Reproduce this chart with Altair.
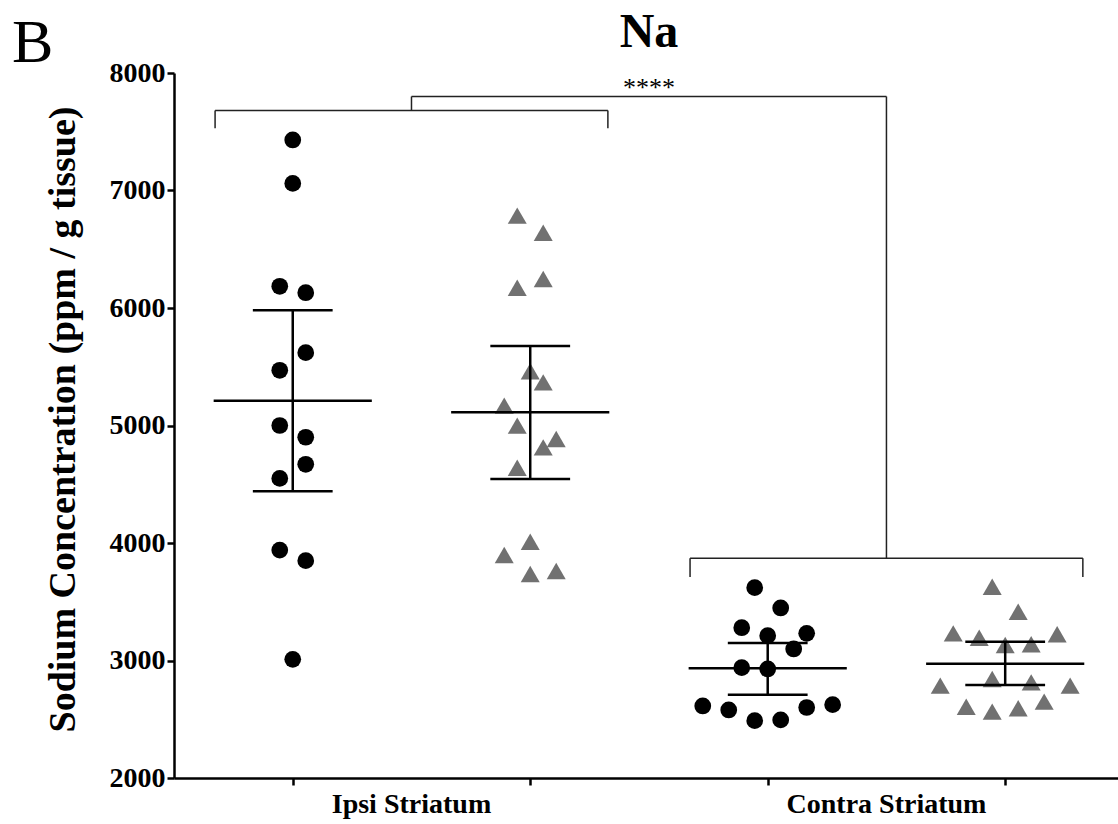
import altair as alt
import pandas as pd

# ---------------- data ----------------
groups = ["Ipsi Striatum", "Contra Striatum"]
group_centers = [1.0, 3.0]
series_pos = [0.5, 1.5, 2.5, 3.5]          # Ipsi-circle, Ipsi-triangle, Contra-circle, Contra-triangle
series_marker = ["circle", "triangle", "circle", "triangle"]

ipsi_circle = [7430, 7060, 6185, 6130, 5620, 5470, 5000, 4900, 4670, 4550, 3940, 3850, 3010]
ipsi_circle_col = [0, 0, -1, 1, 1, -1, -1, 1, 1, -1, -1, 1, 0]

ipsi_tri = [6786, 6641, 6247, 6173, 5461, 5367, 5169, 4999, 4885, 4814, 4641, 4011, 3898, 3736, 3762]
ipsi_tri_col = [-1, 1, 1, -1, 0, 1, -2, -1, 2, 1, -1, 0, -2, 0, 2]

contra_circle = [3620, 3447, 3279, 3211, 3231, 3098, 2939, 2928, 2613, 2579, 2488, 2494, 2600, 2624]
contra_circle_col = [-1, 1, -2, 0, 3, 2, -2, 0, -5, -3, -1, 1, 3, 5]

contra_tri = [3628, 3415, 3231, 3194, 3223, 3132, 3138, 2786, 2843, 2814, 2786, 2607, 2565, 2593, 2650]
contra_tri_col = [-1, 1, -4, -2, 4, 0, 2, -5, -1, 2, 5, -3, -1, 1, 3]

means = [5210, 5112, 2934, 2973]
upper = [5980, 5677, 3149, 3160]
lower = [4440, 4545, 2709, 2791]

# significance brackets (x in group units, y in ppm)
br_x = [0.173, 0.173, 1.827, 2.173, 2.173, 3.827, 1.0, 1.0, 3.0]
br_x2 = [1.827, 0.173, 1.827, 3.827, 2.173, 3.827, 3.0, 1.0, 3.0]
br_y = [7680, 7680, 7680, 3870, 3870, 3870, 7800, 7800, 7800]
br_y2 = [7680, 7530, 7530, 3870, 3710, 3710, 7800, 7680, 3870]
sig_label = "****"

y_ticks = [2000, 3000, 4000, 5000, 6000, 7000, 8000]

# ---------------- tables ----------------
JIT = 0.0547
MEAN_HALF = 0.333
CAP_HALF = 0.168

rows = []
for pos, vals, cols, mk in [
    (series_pos[0], ipsi_circle, ipsi_circle_col, series_marker[0]),
    (series_pos[1], ipsi_tri, ipsi_tri_col, series_marker[1]),
    (series_pos[2], contra_circle, contra_circle_col, series_marker[2]),
    (series_pos[3], contra_tri, contra_tri_col, series_marker[3]),
]:
    for v, c in zip(vals, cols):
        rows.append({"x": pos + c * JIT, "value": v, "marker": mk})
pts = pd.DataFrame(rows)

summ = pd.DataFrame({
    "pos": series_pos, "mean": means, "upper": upper, "lower": lower,
})
summ["m1"] = summ["pos"] - MEAN_HALF
summ["m2"] = summ["pos"] + MEAN_HALF
summ["c1"] = summ["pos"] - CAP_HALF
summ["c2"] = summ["pos"] + CAP_HALF
caps = pd.concat([
    summ[["c1", "c2"]].assign(y=summ["upper"]),
    summ[["c1", "c2"]].assign(y=summ["lower"]),
])

brk = pd.DataFrame({"x": br_x, "x2": br_x2, "y": br_y, "y2": br_y2})
labels = pd.DataFrame({"x": group_centers, "label": groups})
sig = pd.DataFrame({"x": [2.0], "y": [7800], "label": [sig_label]})
ttl = pd.DataFrame({"x": [2.0], "label": ["Na"]})
panel = pd.DataFrame({"label": ["B"]})

FONT = "Liberation Serif"
xs = alt.Scale(domain=[0, 3.975], nice=False, zero=False)
ys = alt.Scale(domain=[2000, 8000], nice=False, zero=False)
xaxis = alt.Axis(values=series_pos, labels=False, title=None, ticks=True, tickSize=7,
                 tickWidth=2.5, domainWidth=2.5, domainColor="black", tickColor="black", grid=False)
yaxis = alt.Axis(values=y_ticks, format="d", title="Sodium Concentration (ppm / g tissue)", tickSize=7,
                 tickWidth=2.5, domainWidth=2.5, domainColor="black", tickColor="black", grid=False,
                 labelFont=FONT, labelFontWeight="bold", labelFontSize=28, labelColor="black",
                 labelPadding=2, titleFont=FONT, titleFontWeight="bold", titleFontSize=38,
                 titleColor="black", titleX=-100, titleY=346, titleBaseline="alphabetic")


def X(field):
    return alt.X(f"{field}:Q", scale=xs, axis=xaxis)


def Y(field):
    return alt.Y(f"{field}:Q", scale=ys, axis=yaxis)


circles = alt.Chart(pts).transform_filter(alt.datum.marker == "circle").mark_point(
    shape="circle", filled=True, size=280, color="black", opacity=1
).encode(x=X("x"), y=Y("value"))

tris = alt.Chart(pts).transform_filter(alt.datum.marker == "triangle").mark_point(
    shape="triangle-up", filled=True, size=361, color="#717171", opacity=1
).encode(x=X("x"), y=Y("value"))

mean_rule = alt.Chart(summ).mark_rule(color="black", strokeWidth=2.5).encode(
    x=X("m1"), x2="m2", y=Y("mean"))
err_rule = alt.Chart(summ).mark_rule(color="black", strokeWidth=2.5).encode(
    x=X("pos"), y=Y("lower"), y2="upper")
cap_rule = alt.Chart(caps).mark_rule(color="black", strokeWidth=2.5).encode(
    x=X("c1"), x2="c2", y=Y("y"))
br_rule = alt.Chart(brk).mark_rule(color="#222222", strokeWidth=1.5).encode(
    x=X("x"), x2="x2", y=Y("y"), y2="y2")

sig_text = alt.Chart(sig).mark_text(font=FONT, fontSize=26, color="black", baseline="alphabetic",
                                    align="center", dy=-1).encode(
    x=X("x"), y=Y("y"), text="label:N")
cat_text = alt.Chart(labels).mark_text(font=FONT, fontSize=28, fontWeight="bold", color="black",
                                       baseline="alphabetic", align="center").encode(
    x=X("x"), y=alt.value(740), text="label:N")
title_text = alt.Chart(ttl).mark_text(font=FONT, fontSize=48, fontWeight="bold", color="black",
                                      baseline="alphabetic", align="center").encode(
    x=X("x"), y=alt.value(-26), text="label:N")
panel_text = alt.Chart(panel).mark_text(font=FONT, fontSize=62, color="black",
                                        baseline="alphabetic", align="left").encode(
    x=alt.value(-162), y=alt.value(-11), text="label:N")

chart = alt.layer(
    circles, tris, mean_rule, err_rule, cap_rule, br_rule,
    sig_text, cat_text, title_text, panel_text
).properties(
    width=944, height=705,
    autosize=alt.AutoSizeParams(type="none"),
    padding={"left": 174, "top": 73, "right": 0, "bottom": 46},
    background="white",
).configure_view(stroke=None)

chart.save("out.html", embed_options={"renderer": "svg", "actions": False})
